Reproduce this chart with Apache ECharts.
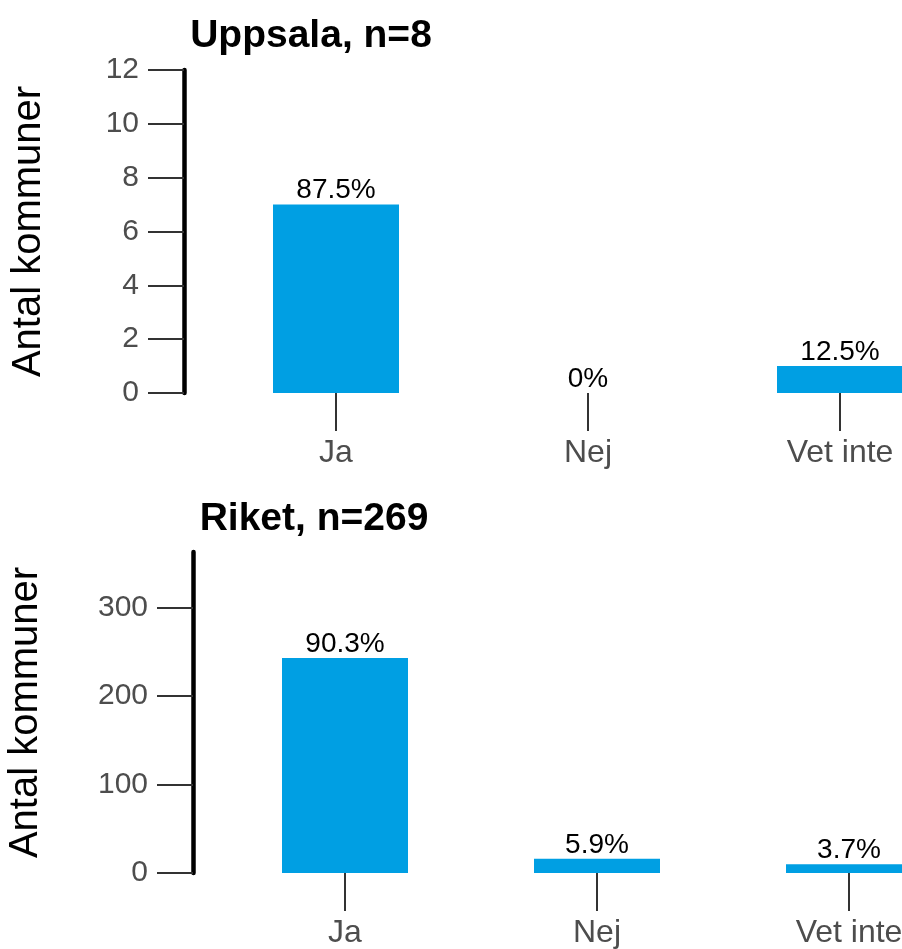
<!DOCTYPE html>
<html>
<head>
<meta charset="utf-8">
<script src="https://cdn.jsdelivr.net/npm/echarts@6/dist/echarts.min.js"></script>
<style>
html,body{margin:0;padding:0;background:#fff;}
#chart{width:902px;height:949px;}
</style>
</head>
<body>
<div id="chart"></div>
<script>
const categories = ['Ja', 'Nej', 'Vet inte'];
const uppsalaCounts = [7, 0, 1];
const uppsalaPct = ['87.5%', '0%', '12.5%'];
const riketCounts = [243, 16, 10];
const riketPct = ['90.3%', '5.9%', '3.7%'];
const uppsalaTicks = [0, 2, 4, 6, 8, 10, 12];
const riketTicks = [0, 100, 200, 300];
const titles = ['Uppsala, n=8', 'Riket, n=269'];
const yName = 'Antal kommuner';

const FONT = "'Liberation Sans', Arial, sans-serif";
const BAR = '#009FE3';
const GRAY = '#4d4d4d';

function xAxisFor(gridIndex) {
  return {
    type: 'category', gridIndex, data: categories,
    axisLine: { show: false },
    axisTick: { show: true, alignWithLabel: true, length: 38, lineStyle: { color: '#333', width: 2 } },
    axisLabel: { margin: 44, fontSize: 32, color: GRAY, fontFamily: FONT, verticalAlign: 'top', hideOverlap: false },
    splitLine: { show: false }
  };
}
function yAxisFor(gridIndex, max, interval, ticks, nameGap) {
  return {
    type: 'value', gridIndex, min: 0, max, interval,
    offset: 26,
    name: yName, nameLocation: 'middle', nameGap,
    nameTextStyle: { fontSize: 40, color: '#000', fontFamily: FONT },
    axisLine: { show: true, lineStyle: { color: '#000', width: 4.5 } },
    axisTick: { show: true, length: 36, customValues: ticks, lineStyle: { color: '#333', width: 2 } },
    axisLabel: { margin: 45, fontSize: 30, color: GRAY, fontFamily: FONT, customValues: ticks },
    splitLine: { show: false }
  };
}
function seriesFor(idx, counts, pct) {
  return {
    type: 'bar', xAxisIndex: idx, yAxisIndex: idx,
    data: counts, barWidth: '50%', clip: false,
    itemStyle: { color: BAR },
    label: {
      show: true, position: 'top', distance: 0,
      fontSize: 28, color: '#000', fontFamily: FONT,
      formatter: p => pct[p.dataIndex]
    },
    silent: true
  };
}

const chart = echarts.init(document.getElementById('chart'), null, { renderer: 'canvas' });
chart.setOption({
  animation: false,
  backgroundColor: '#fff',
  title: [
    { text: titles[0], left: 306, top: 12, textAlign: 'center',
      textStyle: { fontSize: 39, fontWeight: 'bold', color: '#000', fontFamily: FONT } },
    { text: titles[1], left: 309, top: 495, textAlign: 'center',
      textStyle: { fontSize: 39, fontWeight: 'bold', color: '#000', fontFamily: FONT } }
  ],
  grid: [
    { left: 210, top: 70, width: 756, height: 323, containLabel: false, outerBoundsMode: 'none' },
    { left: 219, top: 552, width: 756, height: 321, containLabel: false, outerBoundsMode: 'none' }
  ],
  xAxis: [xAxisFor(0), xAxisFor(1)],
  yAxis: [
    yAxisFor(0, 12, 2, uppsalaTicks, 135),
    yAxisFor(1, 363, 100, riketTicks, 147)
  ],
  series: [
    seriesFor(0, uppsalaCounts, uppsalaPct),
    seriesFor(1, riketCounts, riketPct)
  ]
});
</script>
</body>
</html>
